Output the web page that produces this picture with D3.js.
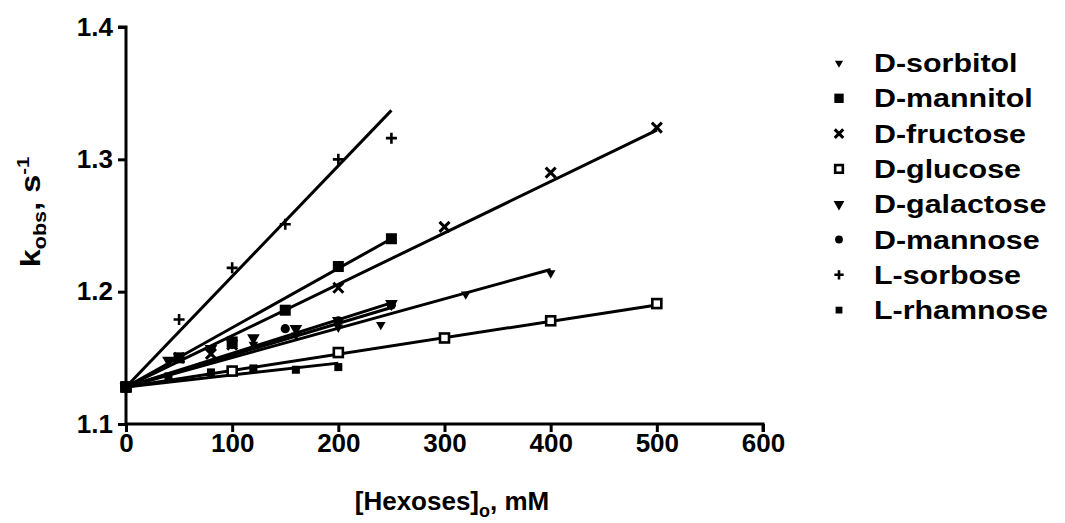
<!DOCTYPE html>
<html><head><meta charset="utf-8">
<script src="https://cdn.jsdelivr.net/npm/d3@7"></script>
<style>
html,body{margin:0;padding:0;background:#fff;}
svg{display:block;}
text{font-family:"Liberation Sans",Arial,sans-serif;font-weight:bold;fill:#000;}
</style></head>
<body>
<script>
// ---- data ----
const seriesNames = ["D-sorbitol","D-mannitol","D-fructose","D-glucose","D-galactose","D-mannose","L-sorbose","L-rhamnose"];
const sorbitolX = [0,40,80,120,160,200,240,320,400];
const sorbitolY = [1.128,1.148,1.155,1.160,1.167,1.173,1.175,1.198,1.214];
const mannitolX = [0,50,100,150,200,250];
const mannitolY = [1.128,1.150,1.162,1.186,1.219,1.240];
const fructoseX = [0,50,80,100,200,300,400,500];
const fructoseY = [1.128,1.150,1.153,1.160,1.203,1.249,1.290,1.324];
const glucoseX = [0,100,200,300,400,500];
const glucoseY = [1.128,1.140,1.154,1.165,1.178,1.191];
const galactoseX = [0,40,80,120,160,200,250];
const galactoseY = [1.128,1.148,1.157,1.165,1.172,1.178,1.191];
const mannoseX = [0,50,100,150,200,250];
const mannoseY = [1.128,1.150,1.160,1.172,1.178,1.190];
const sorboseX = [0,50,100,150,200,250];
const sorboseY = [1.128,1.179,1.218,1.251,1.300,1.316];
const rhamnoseX = [0,40,80,120,160,200];
const rhamnoseY = [1.128,1.136,1.139,1.142,1.141,1.143];
// linear fits: common intercept and slopes (per mM)
const fitIntercept = 1.128;
const fitSlopes = [0.000222,0.000448,0.000388,0.000124,0.000254,0.000240,0.000836,0.000090];
const xTicks = [0,100,200,300,400,500,600];
const yTicks = [1.1,1.2,1.3,1.4];

const xs = [sorbitolX,mannitolX,fructoseX,glucoseX,galactoseX,mannoseX,sorboseX,rhamnoseX];
const ys = [sorbitolY,mannitolY,fructoseY,glucoseY,galactoseY,mannoseY,sorboseY,rhamnoseY];

const W = 1065, H = 523;
const svg = d3.select("body").append("svg").attr("width",W).attr("height",H);

const x = d3.scaleLinear().domain([0,600]).range([126,763]);
const y = d3.scaleLinear().domain([1.1,1.4]).range([424,27]);

function marker(g, i, cx, cy, legend){
  const s = legend ? 0.85 : 1;
  switch(i){
    case 0:
      g.append("path").attr("d", d3.symbol(d3.symbolTriangle, 40*s*s)())
        .attr("transform",`translate(${cx},${cy}) rotate(180)`).attr("fill","#000"); break;
    case 1:
      g.append("rect").attr("x",cx-5.5*s).attr("y",cy-5.5*s).attr("width",11*s).attr("height",11*s).attr("fill","#000"); break;
    case 2:
      g.append("path").attr("d",`M${cx-5*s},${cy-5*s}L${cx+5*s},${cy+5*s}M${cx+5*s},${cy-5*s}L${cx-5*s},${cy+5*s}`)
        .attr("stroke","#000").attr("stroke-width",3).attr("fill","none"); break;
    case 3:
      g.append("rect").attr("x",cx-4.5*s).attr("y",cy-4.5*s).attr("width",9*s).attr("height",9*s)
        .attr("fill","#fff").attr("stroke","#000").attr("stroke-width",2.6); break;
    case 4:
      g.append("path").attr("d", d3.symbol(d3.symbolTriangle, 70*s*s)())
        .attr("transform",`translate(${cx},${cy}) rotate(180)`).attr("fill","#000"); break;
    case 5:
      g.append("circle").attr("cx",cx).attr("cy",cy).attr("r",4.6*s).attr("fill","#000"); break;
    case 6:
      g.append("path").attr("d",`M${cx-5.5*s},${cy}L${cx+5.5*s},${cy}M${cx},${cy-5.5*s}L${cx},${cy+5.5*s}`)
        .attr("stroke","#000").attr("stroke-width",2.6).attr("fill","none"); break;
    case 7:
      g.append("rect").attr("x",cx-4*s).attr("y",cy-4*s).attr("width",8*s).attr("height",8*s).attr("fill","#000"); break;
  }
}

// fit lines
const lines = svg.append("g");
seriesNames.forEach((n,i)=>{
  const xmax = d3.max(xs[i]);
  lines.append("line")
    .attr("x1",x(0)).attr("y1",y(fitIntercept))
    .attr("x2",x(xmax)).attr("y2",y(fitIntercept+fitSlopes[i]*xmax))
    .attr("stroke","#000").attr("stroke-width",3);
});

// points
const pts = svg.append("g");
seriesNames.forEach((n,i)=>{
  xs[i].forEach((xv,j)=>{ marker(pts,i,x(xv),y(ys[i][j]),false); });
});
pts.append("circle").attr("cx",x(0)).attr("cy",y(fitIntercept)).attr("r",6).attr("fill","#000");

// axes
const yAxis = svg.append("g").attr("transform",`translate(${x(0)},0)`)
  .call(d3.axisLeft(y).tickValues(yTicks).tickFormat(d3.format(".1f")).tickSize(8).tickPadding(5));
const xAxis = svg.append("g").attr("transform",`translate(0,${y(1.1)})`)
  .call(d3.axisBottom(x).tickValues(xTicks).tickFormat(d3.format("d")).tickSize(8).tickPadding(2));
[yAxis,xAxis].forEach(a=>{
  a.select(".domain").attr("stroke","#000").attr("stroke-width",3);
  a.selectAll(".tick line").attr("stroke","#000").attr("stroke-width",3);
  a.selectAll(".tick text").attr("font-size",26).attr("font-weight","bold")
    .attr("font-family","'Liberation Sans',Arial,sans-serif").attr("fill","#000");
});
yAxis.select(".domain").attr("d",`M-8,${y(1.4)}H0V${y(1.1)}`);
xAxis.select(".domain").attr("d",`M${x(0)},0H${x(600)}V8`);

// axis titles
const yl = svg.append("text").attr("transform","translate(40,212) rotate(-90) scale(1.2,1)")
  .attr("text-anchor","middle").attr("font-size",27);
yl.append("tspan").text("k");
yl.append("tspan").attr("font-size",18).attr("dy",6).text("obs");
yl.append("tspan").attr("dy",-6).text(", s");
yl.append("tspan").attr("font-size",17).attr("dy",-11).text("-1");

const xl = svg.append("text").attr("x",452).attr("y",510)
  .attr("text-anchor","middle").attr("font-size",26);
xl.append("tspan").text("[Hexoses]");
xl.append("tspan").attr("font-size",18).attr("dy",7).text("o");
xl.append("tspan").attr("dy",-7).text(", mM");

// legend
const leg = svg.append("g");
seriesNames.forEach((n,i)=>{
  const cy = 63 + i*35.3;
  marker(leg,i,839,cy,true);
  leg.append("text").attr("transform",`translate(874,${cy+9}) scale(1.17,1)`)
    .attr("font-size",26).text(n);
});
</script>
</body></html>
